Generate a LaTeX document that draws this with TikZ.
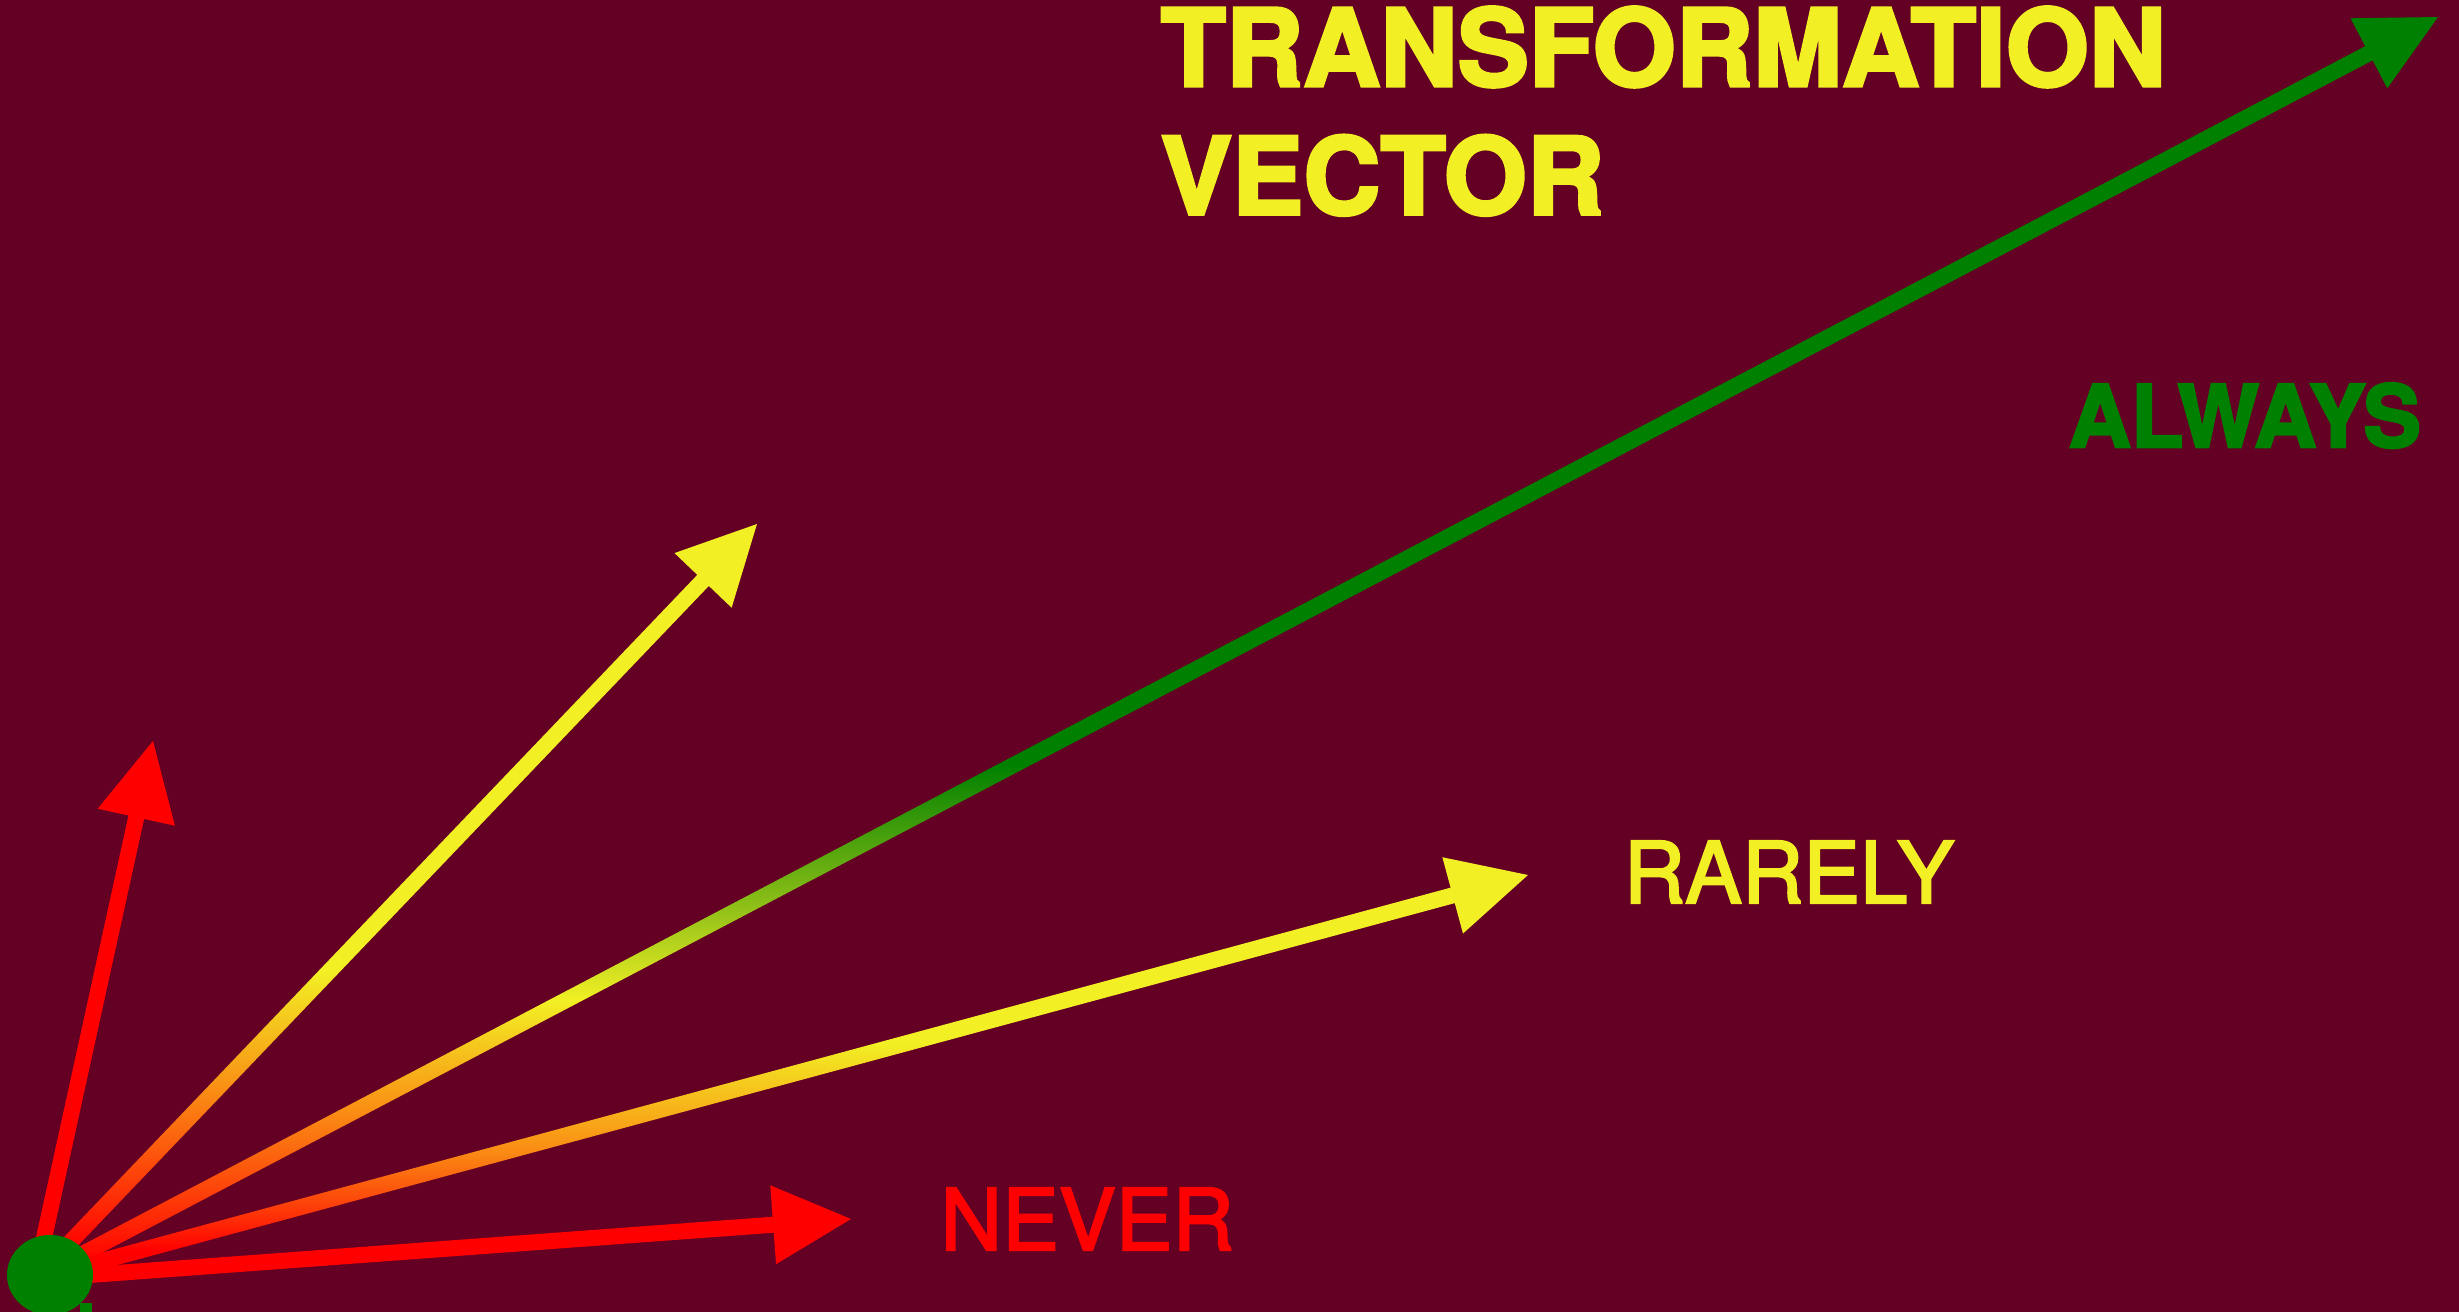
\documentclass[tikz,border=0pt]{standalone}
\usepackage{fontspec}
\setmainfont{TeX Gyre Heros}[FakeBold=3]
\newfontfamily\heavyfont{TeX Gyre Heros Bold}[FakeBold=3]
\newfontfamily\plainfont{TeX Gyre Heros}[FakeBold=2.5]
\usetikzlibrary{calc,shapes.geometric}
\definecolor{bgMaroon}{RGB}{100,0,36}
\definecolor{cRed}{RGB}{255,0,0}
\definecolor{cOrange}{RGB}{250,140,20}
\definecolor{cYellow}{RGB}{242,240,36}
\definecolor{cLime}{RGB}{150,195,25}
\definecolor{cGreen}{RGB}{0,128,0}
\pgfdeclareverticalshading{gradGreen}{100bp}{color(0bp)=(cRed); color(26bp)=(cRed); color(32bp)=(cOrange); color(36.5bp)=(cYellow); color(40bp)=(cLime); color(46bp)=(cGreen); color(100bp)=(cGreen)}
\pgfdeclareverticalshading{gradYellowA}{100bp}{color(0bp)=(cRed); color(27.5bp)=(cRed); color(38.5bp)=(cOrange); color(47bp)=(cYellow); color(100bp)=(cYellow)}
\pgfdeclareverticalshading{gradYellowB}{100bp}{color(0bp)=(cRed); color(29.5bp)=(cRed); color(42bp)=(cOrange); color(55.5bp)=(cYellow); color(100bp)=(cYellow)}
% shaft: #1 tip, #2 origin, #3 paint options
\newcommand{\vecshaft}[3]{%
  \coordinate (#1s) at ($(#1)!0.72cm!(#2)$);
  \path[#3] ($(#2)!0.08cm!90:(#1s)$) -- ($(#1s)!0.08cm!-90:(#2)$)
     -- ($(#1s)!0.08cm!90:(#2)$) -- ($(#2)!0.08cm!-90:(#1s)$) -- cycle;}
% head: #1 tip, #2 origin, #3 colour
\newcommand{\vechead}[3]{%
  \coordinate (#1b) at ($(#1)!0.78cm!(#2)$);
  \fill[#3] (#1) -- ($(#1b)!0.395cm!90:(#1)$) -- ($(#1b)!0.395cm!-90:(#1)$) -- cycle;}
\tikzset{
  titlelabel/.style={inner sep=0pt, text=cYellow, align=left,
    font=\fontsize{30.4}{36.5}\selectfont\heavyfont},
  wordlabel/.style={inner sep=0pt, anchor=base west,
    font=\fontsize{24.2}{29}\selectfont\plainfont},
}
\begin{document}
\begin{tikzpicture}[x=0.01cm,y=-0.01cm]
\fill[bgMaroon] (0,0) rectangle (2459,1312);
\useasboundingbox (0,0) rectangle (2459,1312);
\coordinate (O) at (35,1279);
\coordinate (tU) at (153,741);
\coordinate (tY) at (757,524);
\coordinate (tG) at (2438,17);
\coordinate (tR) at (1528,875);
\coordinate (tN) at (851,1219);
% shafts
\vecshaft{tU}{O}{fill=cRed}
\vecshaft{tY}{O}{shade,shading=gradYellowA}
\vecshaft{tG}{O}{shade,shading=gradGreen}
\vecshaft{tR}{O}{shade,shading=gradYellowB}
\vecshaft{tN}{O}{fill=cRed}
% heads
\vechead{tU}{O}{cRed}
\vechead{tY}{O}{cYellow}
\vechead{tG}{O}{cGreen}
\vechead{tR}{O}{cYellow}
\vechead{tN}{O}{cRed}
% origin dot
\node (dot) [ellipse, fill=cGreen, minimum width=0.86cm, minimum height=0.80cm, inner sep=0pt] at (50,1275) {};
\fill[cGreen] (80,1303) rectangle (92,1312);
% labels
\node (title) [titlelabel, anchor=north west] at (1160,6) {TRANSFORMATION\\VECTOR};
\node (always) [wordlabel, text=cGreen, font=\fontsize{24.5}{29}\selectfont\heavyfont] at (2068,447) {ALWAYS};
\node (rarely) [wordlabel, text=cYellow] at (1623,903) {RARELY};
\node (never) [wordlabel, text=cRed] at (940,1250) {NEVER};
\end{tikzpicture}
\end{document}
